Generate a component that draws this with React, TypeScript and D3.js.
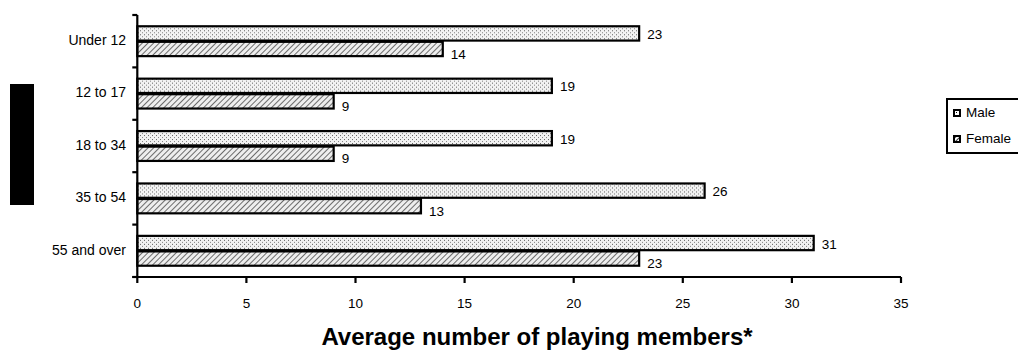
import React from "react";
import * as d3 from "d3";

// Age groups and average playing members per club, by gender
const categories = ["Under 12", "12 to 17", "18 to 34", "35 to 54", "55 and over"];
const series = ["Male", "Female"];
const maleValues = [23, 19, 19, 26, 31];
const femaleValues = [14, 9, 9, 13, 23];
const xTicks = [0, 5, 10, 15, 20, 25, 30, 35];
const title = "Average number of playing members*";

const W = 1018;
const H = 351;
const FONT = "'Liberation Sans', Arial, sans-serif";

export default function App() {
  const x = d3.scaleLinear().domain([0, 35]).range([137.3, 901]);
  const y = d3
    .scaleBand<string>()
    .domain(categories)
    .range([15, 277])
    .paddingInner(0.43)
    .paddingOuter(0.215);
  const inner = d3
    .scaleBand<string>()
    .domain(series)
    .range([0, y.bandwidth()])
    .paddingInner(0.08);

  const step = y.step();
  const boundaries = d3.range(categories.length + 1).map((i) => 15 + i * step);
  const valuesBy: Record<string, number[]> = { Male: maleValues, Female: femaleValues };
  const fillBy: Record<string, string> = { Male: "url(#dots)", Female: "url(#hatch)" };
  const axisY = 277;
  const axisX = x(0);

  return (
    <svg
      width={W}
      height={H}
      style={{ position: "fixed", left: 0, top: 0, background: "#fff" }}
      fontFamily={FONT}
    >
      <defs>
        <pattern id="dots" width="4" height="4" patternUnits="userSpaceOnUse">
          <rect width="4" height="4" fill="#f2f2f2" />
          <rect x="0" y="0" width="1" height="1" fill="#606060" />
          <rect x="2" y="2" width="1" height="1" fill="#808080" />
        </pattern>
        <pattern
          id="hatch"
          width="4"
          height="4"
          patternUnits="userSpaceOnUse"
          patternTransform="rotate(45)"
        >
          <rect width="4" height="4" fill="#eeeeee" />
          <line x1="0" y1="0" x2="0" y2="4" stroke="#333" strokeWidth="1.4" />
        </pattern>
        <pattern id="hatchLegend" width="3" height="3" patternUnits="userSpaceOnUse" patternTransform="rotate(45)">
          <rect width="3" height="3" fill="#fff" />
          <line x1="0" y1="0" x2="0" y2="3" stroke="#000" strokeWidth="1.5" />
        </pattern>
      </defs>

      {/* black block on the left */}
      <rect x={10} y={84} width={24} height={121} fill="#000" />

      {/* bars */}
      {categories.map((c, i) => (
        <g key={c} transform={`translate(0,${y(c)})`}>
          {series.map((s) => {
            const v = valuesBy[s][i];
            const by = inner(s)!;
            const bh = inner.bandwidth();
            return (
              <g key={s}>
                <rect
                  x={x(0)}
                  y={by}
                  width={x(v) - x(0)}
                  height={bh}
                  fill={fillBy[s]}
                  stroke="#000"
                  strokeWidth={2.2}
                />
                <text
                  x={x(v) + 8}
                  y={by + bh / 2 + (s === "Male" ? 2 : 6)}
                  dominantBaseline="middle"
                  fontSize={13.5}
                  fill="#000"
                >
                  {v}
                </text>
              </g>
            );
          })}
        </g>
      ))}

      {/* y axis */}
      <line x1={axisX} x2={axisX} y1={boundaries[0]} y2={axisY} stroke="#000" strokeWidth={2.2} />
      {boundaries.map((b, i) => (
        <line key={i} x1={axisX - 5} x2={axisX} y1={b} y2={b} stroke="#000" strokeWidth={2.2} />
      ))}
      {categories.map((c) => (
        <text
          key={c}
          x={126}
          y={y(c)! + y.bandwidth() / 2}
          textAnchor="end"
          dominantBaseline="middle"
          fontSize={14}
          fill="#000"
        >
          {c}
        </text>
      ))}

      {/* x axis */}
      <line x1={axisX - 5} x2={x(35)} y1={axisY} y2={axisY} stroke="#000" strokeWidth={2.2} />
      {xTicks.map((t) => (
        <g key={t}>
          <line x1={x(t)} x2={x(t)} y1={axisY} y2={axisY + 6} stroke="#000" strokeWidth={2.2} />
          <text x={x(t)} y={307.5} textAnchor="middle" fontSize={13.5} fill="#000">
            {t}
          </text>
        </g>
      ))}

      <text
        x={537}
        y={345}
        textAnchor="middle"
        fontSize={24}
        fontWeight="bold"
        fill="#000"
      >
        {title}
      </text>

      {/* legend */}
      <rect x={947} y={99} width={80} height={54} fill="#fff" stroke="#000" strokeWidth={2} />
      {series.map((s, i) => (
        <g key={s} transform={`translate(953,${113 + i * 26})`}>
          <rect x={0} y={-4} width={8} height={8} fill="#000" />
          <rect
            x={2}
            y={-2}
            width={4}
            height={4}
            fill={s === "Male" ? "#fff" : "url(#hatchLegend)"}
          />
          {s === "Male" && <rect x={3} y={-1} width={1} height={1} fill="#000" />}
          <text x={13} y={0} dominantBaseline="middle" fontSize={13.5} fill="#000">
            {s}
          </text>
        </g>
      ))}
    </svg>
  );
}
